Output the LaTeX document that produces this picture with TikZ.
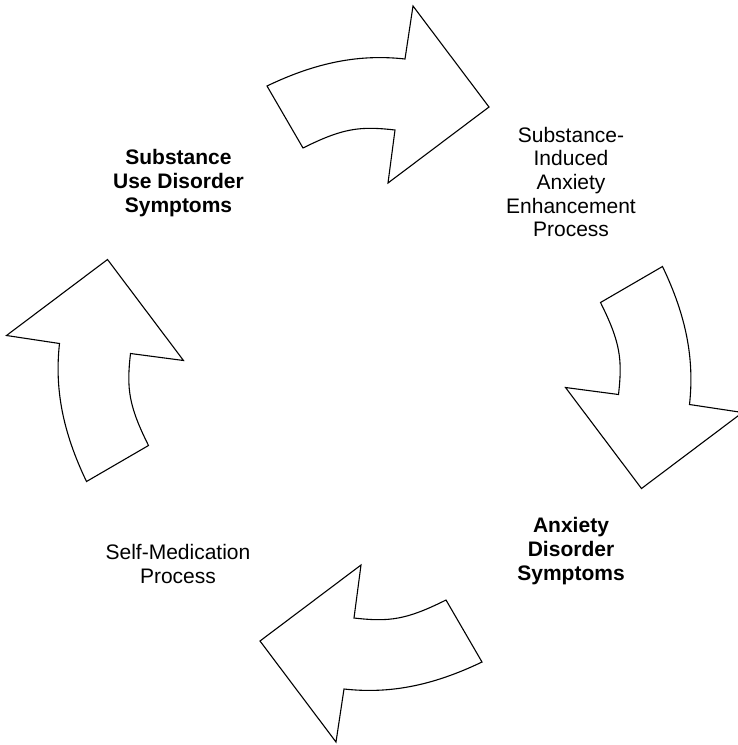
\documentclass[tikz,border=0pt]{standalone}
\usepackage{fontspec}
\setmainfont{Liberation Sans}
\tikzset{
  bigarrow/.style={draw=black, fill=white, line width=1.1pt, line join=miter},
  lbl/.style={align=center, inner sep=0pt, font=\fontsize{21}{23.7}\selectfont},
  lblb/.style={lbl, font=\fontsize{21}{23.7}\selectfont\bfseries},
}
\newcommand{\cyclearrow}{%
  \draw[bigarrow] (-107.5,-288) .. controls (-57.5,-312) and (-14.5,-320) .. (30.5,-315)
    -- (38.5,-368) -- (114.5,-267) -- (13.5,-191) -- (20.5,-244)
    .. controls (-14.5,-248) and (-31.5,-246) .. (-71.5,-226) -- cycle;}
\begin{document}
\begin{tikzpicture}[x=1pt,y=-1pt]
\useasboundingbox (0,0) rectangle (738,745);
\clip (0,0) rectangle (738,745);
\foreach \k in {0,1,2,3} {
  \begin{scope}[shift={(374.5,374)}, rotate=-90*\k]
    \cyclearrow
  \end{scope}
}
\node[lblb] (sud) at (178.5,183) {Substance\\Use Disorder\\Symptoms};
\node[lbl] (siae) at (571,182) {Substance-\\Induced\\Anxiety\\Enhancement\\Process};
\node[lblb] (ads) at (571,551) {Anxiety\\Disorder\\Symptoms};
\node[lbl] (smp) at (178,564) {Self-Medication\\Process};
\end{tikzpicture}
\end{document}
